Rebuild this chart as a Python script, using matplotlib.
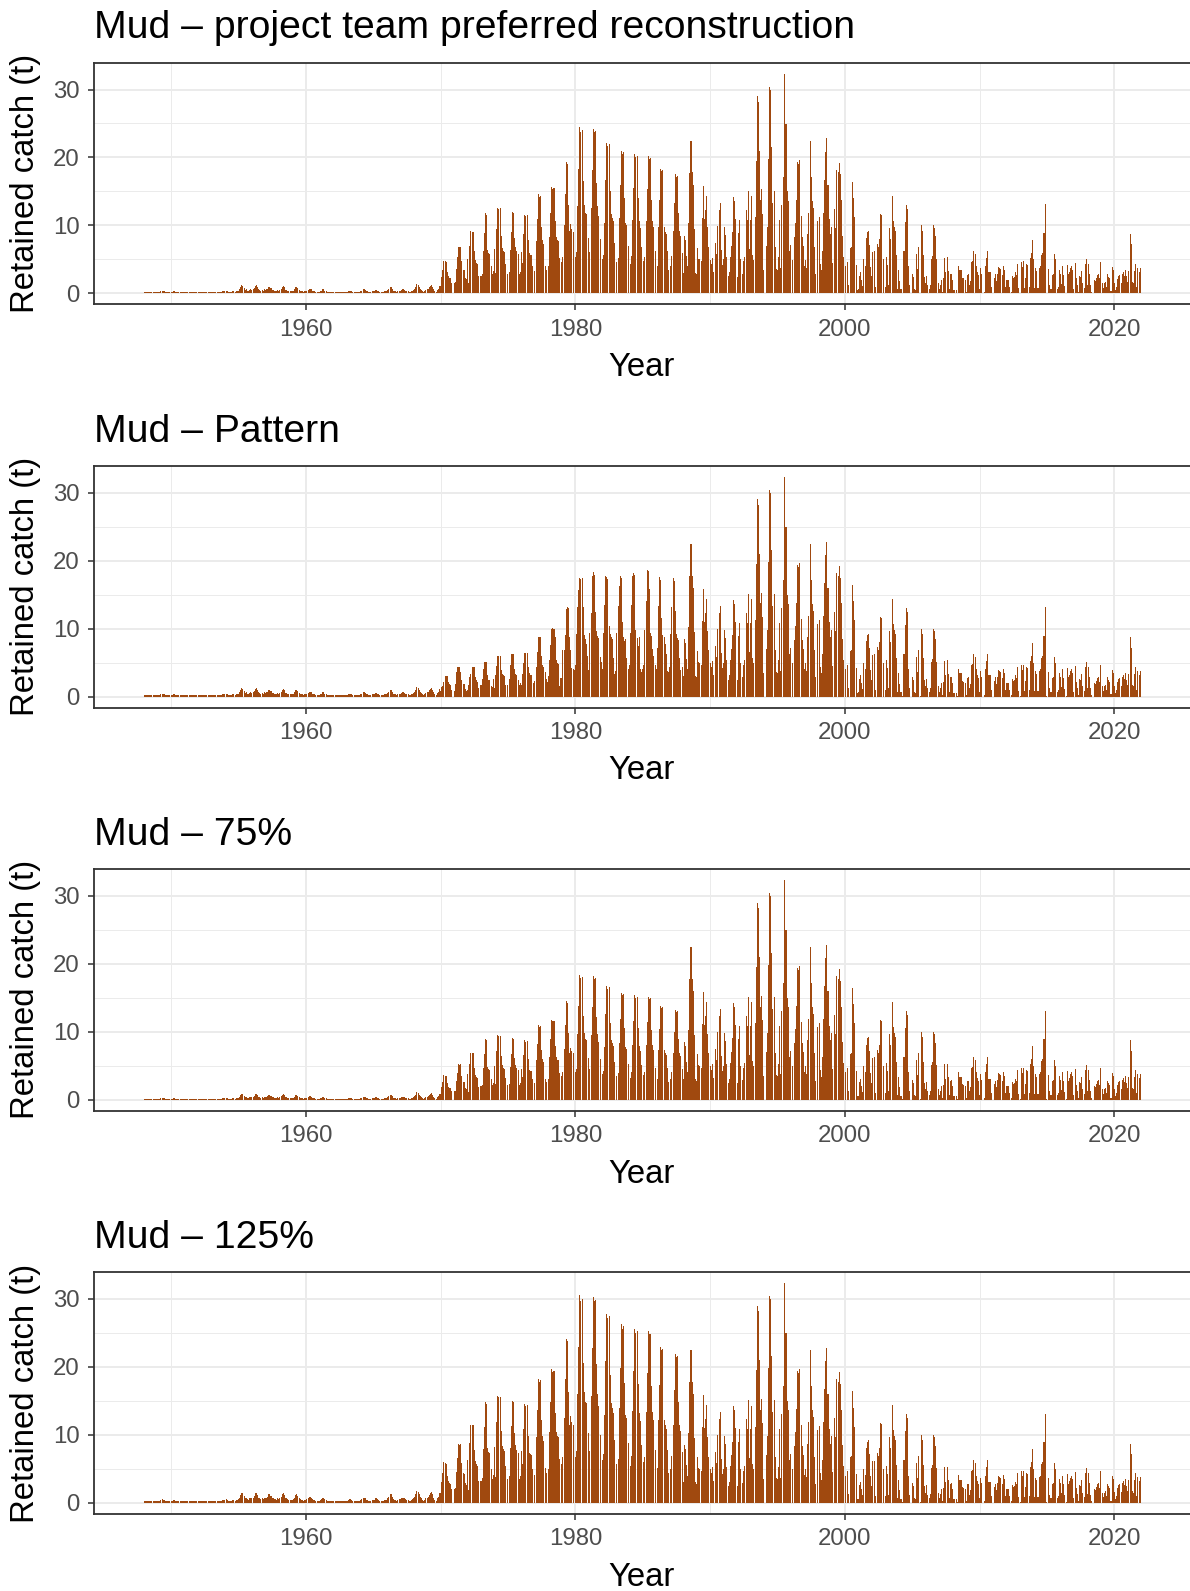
import numpy as np
import matplotlib
matplotlib.use("Agg")
import matplotlib.pyplot as plt

plt.rcParams['font.family'] = ['Liberation Sans', 'DejaVu Sans']

# monthly retained catch (t), one row per year, Jan..Dec

# 1948-1969, same in the reconstruction and pattern runs
early = [
    [0.2, 0.2, 0.2, 0.2, 0.2, 0.2, 0.2, 0.2, 0.2, 0.2, 0.2, 0.2],
    [0.2, 0.2, 0.2, 0.3, 0.4, 0.3, 0.3, 0.2, 0.2, 0.2, 0.2, 0.2],
    [0.2, 0.2, 0.3, 0.3, 0.2, 0.2, 0.2, 0.2, 0.2, 0.2, 0.2, 0.2],
    [0.2, 0.2, 0.2, 0.2, 0.2, 0.2, 0.2, 0.2, 0.2, 0.2, 0.2, 0.2],
    [0.2, 0.2, 0.2, 0.2, 0.2, 0.2, 0.2, 0.2, 0.2, 0.2, 0.2, 0.2],
    [0.2, 0.2, 0.2, 0.2, 0.2, 0.2, 0.2, 0.2, 0.2, 0.2, 0.3, 0.3],
    [0.3, 0.4, 0.3, 0.2, 0.2, 0.2, 0.2, 0.3, 0.3, 0.2, 0.3, 0.3],
    [0.4, 0.6, 0.9, 1.2, 1.1, 0.8, 0.5, 0.6, 0.4, 0.3, 0.5, 0.6],
    [0.5, 0.6, 0.8, 1.1, 1.2, 0.9, 0.6, 0.5, 0.4, 0.5, 0.4, 0.6],
    [0.5, 0.6, 0.7, 1.0, 1.0, 0.8, 0.5, 0.5, 0.4, 0.4, 0.3, 0.5],
    [0.4, 0.5, 0.7, 1.0, 1.1, 0.9, 0.5, 0.5, 0.4, 0.3, 0.3, 0.3],
    [0.3, 0.4, 0.6, 0.9, 1.0, 0.8, 0.5, 0.4, 0.3, 0.3, 0.2, 0.3],
    [0.3, 0.4, 0.5, 0.7, 0.7, 0.6, 0.4, 0.3, 0.3, 0.2, 0.2, 0.2],
    [0.2, 0.3, 0.4, 0.6, 0.6, 0.4, 0.3, 0.2, 0.2, 0.2, 0.2, 0.2],
    [0.2, 0.2, 0.2, 0.2, 0.2, 0.2, 0.2, 0.2, 0.2, 0.2, 0.2, 0.2],
    [0.2, 0.2, 0.3, 0.4, 0.4, 0.3, 0.2, 0.2, 0.2, 0.2, 0.2, 0.2],
    [0.2, 0.3, 0.4, 0.6, 0.6, 0.5, 0.3, 0.3, 0.2, 0.2, 0.2, 0.3],
    [0.3, 0.3, 0.5, 0.5, 0.4, 0.3, 0.2, 0.2, 0.2, 0.2, 0.3, 0.3],
    [0.3, 0.5, 0.7, 1.0, 1.0, 0.7, 0.4, 0.3, 0.3, 0.2, 0.3, 0.4],
    [0.4, 0.5, 0.6, 0.6, 0.5, 0.4, 0.3, 0.3, 0.2, 0.2, 0.3, 0.4],
    [0.5, 0.7, 1.0, 1.4, 1.3, 1.0, 0.7, 0.5, 0.3, 0.2, 0.3, 0.5],
    [0.6, 0.7, 0.9, 1.1, 1.3, 1.0, 0.6, 0.3, 0.2, 0.5, 0.7, 1.1],
]

# 1970-1987, project team preferred reconstruction
preferred = [
    [1.1, 2.4, 3.5, 4.8, 4.7, 4.6, 3.2, 2.5, 2.3, 2.2, 1.6, 0.0],
    [1.6, 1.7, 3.6, 5.3, 6.9, 6.8, 6.9, 4.7, 3.5, 3.4, 2.3, 2.1],
    [5.0, 1.5, 7.0, 9.2, 9.1, 9.1, 6.2, 4.9, 4.5, 4.3, 2.5, 0.0],
    [2.6, 2.9, 6.3, 8.9, 11.9, 11.6, 6.4, 6.0, 5.8, 4.0, 2.8, 3.3],
    [6.6, 3.0, 9.5, 12.6, 12.4, 12.5, 8.5, 6.7, 6.3, 6.1, 4.3, 0.0],
    [2.8, 3.1, 6.4, 9.0, 12.0, 11.9, 8.2, 6.8, 6.2, 5.8, 2.8, 3.2],
    [6.1, 4.5, 8.7, 11.6, 11.4, 11.5, 7.9, 5.9, 5.7, 5.6, 4.0, 0.0],
    [3.3, 7.7, 10.9, 14.6, 14.2, 14.4, 9.7, 7.9, 7.3, 4.1, 3.5, 0.0],
    [4.0, 8.3, 11.8, 15.7, 15.4, 15.5, 10.6, 8.3, 7.8, 7.7, 5.2, 0.0],
    [4.6, 5.4, 10.0, 14.6, 19.3, 19.0, 13.0, 9.2, 10.2, 9.5, 9.1, 0.0],
    [5.4, 6.1, 12.8, 18.3, 24.5, 23.8, 24.0, 16.5, 13.0, 11.9, 11.7, 0.0],
    [8.2, 6.1, 12.6, 18.2, 24.2, 23.7, 23.9, 16.3, 12.8, 11.4, 8.0, 0.0],
    [5.0, 5.7, 10.3, 16.7, 22.2, 21.7, 22.0, 15.0, 11.7, 11.1, 10.6, 7.4],
    [0.0, 4.6, 5.2, 11.1, 15.9, 21.0, 20.5, 20.8, 14.1, 10.3, 10.0, 7.0],
    [0.0, 4.3, 5.5, 10.8, 15.5, 20.5, 20.0, 20.2, 14.0, 10.6, 9.6, 6.8],
    [0.0, 4.8, 5.4, 10.7, 15.3, 20.2, 19.8, 19.9, 13.7, 10.7, 9.7, 6.2],
    [0.0, 4.1, 9.7, 13.8, 18.3, 18.0, 18.1, 9.7, 9.1, 8.7, 6.2, 3.5],
    [0.0, 4.0, 5.5, 9.2, 13.3, 17.5, 17.1, 17.3, 11.9, 9.2, 8.5, 6.0],
]

# 1970-1987, pattern run
pattern = [
    [0.8, 1.4, 1.5, 2.2, 3.0, 3.0, 3.0, 2.1, 1.8, 1.7, 1.0, 0.0],
    [0.8, 1.9, 3.6, 4.3, 4.3, 4.3, 3.6, 2.5, 1.9, 1.8, 1.1, 0.8],
    [1.0, 1.7, 2.8, 3.3, 4.4, 4.4, 4.4, 2.9, 2.4, 2.2, 1.2, 0.0],
    [1.7, 2.6, 4.0, 5.1, 5.1, 5.1, 3.2, 2.5, 2.4, 1.6, 1.4, 2.6],
    [1.2, 3.1, 4.5, 5.9, 5.9, 5.9, 3.9, 3.3, 3.1, 3.0, 1.7, 0.0],
    [1.7, 2.6, 4.6, 6.2, 6.2, 6.2, 4.1, 3.3, 3.2, 2.4, 1.7, 2.0],
    [1.7, 3.3, 4.9, 6.4, 6.4, 6.4, 4.3, 3.4, 3.1, 3.1, 0.0, 2.0],
    [2.3, 4.4, 6.5, 8.7, 8.7, 8.7, 5.9, 4.6, 4.4, 3.6, 2.6, 2.2],
    [3.0, 5.3, 7.6, 10.0, 10.1, 10.0, 8.7, 5.3, 5.0, 4.8, 1.6, 2.7],
    [2.7, 6.8, 6.9, 9.0, 12.9, 13.1, 13.0, 8.7, 6.9, 4.2, 4.0, 3.9],
    [4.6, 9.2, 13.2, 15.6, 17.4, 17.3, 17.4, 13.1, 9.0, 8.5, 7.8, 5.9],
    [3.9, 9.3, 12.3, 17.8, 18.3, 17.9, 12.4, 9.7, 8.9, 8.6, 5.8, 5.1],
    [4.1, 9.3, 13.4, 17.8, 17.6, 17.3, 10.4, 9.2, 8.7, 8.4, 5.6, 3.3],
    [3.8, 9.3, 13.3, 16.3, 17.7, 17.4, 10.9, 8.8, 8.2, 8.5, 5.7, 4.0],
    [4.7, 9.4, 13.5, 17.8, 18.1, 17.9, 9.8, 8.6, 7.5, 8.7, 4.1, 3.6],
    [4.0, 4.6, 9.8, 14.0, 18.6, 18.4, 15.8, 9.3, 8.9, 7.0, 6.0, 4.6],
    [4.0, 7.1, 13.3, 17.6, 17.1, 11.6, 9.0, 8.7, 7.7, 6.3, 3.8, 3.6],
    [4.3, 9.2, 13.1, 17.4, 17.0, 12.6, 9.2, 8.6, 8.3, 5.6, 3.9, 4.4],
]

# 1988-2021, logbook years common to every run
logbook = [
    [3.0, 8.5, 7.9, 5.5, 4.0, 10.3, 17.7, 22.4, 17.8, 16.0, 9.5, 3.0],
    [2.8, 6.7, 5.1, 5.0, 4.7, 11.1, 15.8, 11.0, 12.3, 14.4, 9.7, 6.8],
    [4.9, 4.4, 5.2, 3.2, 0.0, 7.4, 5.8, 9.9, 12.3, 13.3, 6.4, 4.2],
    [5.0, 9.8, 8.6, 5.3, 2.5, 3.1, 5.4, 7.0, 9.0, 14.2, 13.6, 11.0],
    [2.4, 8.9, 10.8, 5.0, 0.0, 2.9, 4.7, 5.4, 12.3, 10.8, 15.1, 6.6],
    [10.8, 14.3, 5.7, 4.9, 11.2, 19.5, 29.0, 28.2, 21.0, 13.7, 15.3, 11.7],
    [3.5, 0.0, 7.0, 9.8, 19.8, 30.4, 29.9, 21.6, 13.3, 15.1, 6.8, 3.6],
    [3.5, 5.3, 10.8, 3.7, 13.0, 17.1, 32.3, 24.9, 24.9, 15.0, 13.6, 6.3],
    [7.1, 4.9, 0.0, 8.3, 10.4, 13.8, 19.4, 19.1, 19.7, 11.4, 8.3, 7.0],
    [4.1, 4.9, 3.8, 8.7, 11.9, 22.4, 17.2, 13.6, 12.6, 6.8, 2.8, 0.0],
    [10.7, 11.3, 4.4, 3.4, 6.3, 11.9, 16.7, 20.8, 22.8, 16.0, 10.9, 8.7],
    [9.8, 4.5, 0.0, 12.4, 9.6, 18.2, 17.8, 19.2, 17.5, 13.7, 8.5, 5.4],
    [0.0, 4.0, 4.6, 1.3, 0.0, 6.7, 6.9, 16.4, 14.0, 11.2, 4.2, 0.5],
    [0.6, 2.6, 3.1, 2.0, 1.1, 5.0, 4.1, 8.1, 9.0, 9.2, 7.1, 3.9],
    [2.5, 6.1, 6.2, 1.0, 0.0, 7.3, 6.9, 8.0, 11.7, 11.6, 5.0, 0.0],
    [1.0, 5.4, 4.2, 1.2, 9.6, 8.0, 14.4, 10.7, 9.8, 9.2, 5.6, 0.7],
    [3.4, 1.8, 0.6, 0.1, 6.3, 6.3, 10.5, 13.0, 12.4, 4.0, 1.2, 0.0],
    [2.9, 2.4, 0.7, 0.5, 5.8, 3.6, 6.9, 0.1, 10.0, 9.2, 5.6, 2.4],
    [1.5, 2.6, 1.2, 0.7, 1.3, 5.1, 5.5, 10.0, 9.6, 8.4, 5.1, 1.5],
    [0.7, 1.3, 2.0, 0.2, 2.2, 5.2, 3.1, 5.3, 3.3, 0.7, 2.8, 2.9],
    [2.0, 0.5, 0.5, 0.5, 0.1, 4.1, 3.4, 3.4, 3.4, 2.3, 2.2, 2.0],
    [0.2, 2.7, 2.8, 1.2, 1.8, 4.6, 4.8, 6.3, 5.8, 4.0, 3.2, 2.7],
    [0.7, 3.7, 2.9, 0.0, 0.2, 4.0, 5.2, 6.3, 3.1, 3.1, 3.1, 1.0],
    [0.0, 2.3, 2.8, 1.8, 2.9, 3.9, 3.8, 3.6, 2.7, 4.1, 3.5, 1.0],
    [2.0, 2.0, 2.0, 1.0, 0.2, 2.6, 2.3, 2.4, 3.1, 2.7, 4.4, 0.8],
    [0.1, 4.6, 3.9, 4.7, 0.8, 2.3, 4.4, 4.2, 1.0, 5.2, 6.0, 7.9],
    [5.0, 0.8, 3.7, 3.3, 0.8, 3.8, 4.0, 5.7, 6.0, 8.9, 8.9, 13.1],
    [0.1, 3.6, 1.2, 0.7, 0.7, 2.7, 2.9, 5.8, 5.0, 0.7, 1.0, 3.5],
    [2.9, 1.4, 4.0, 2.7, 1.1, 0.1, 4.2, 2.8, 3.2, 3.7, 4.0, 3.5],
    [0.7, 4.5, 2.2, 1.3, 0.2, 2.6, 2.4, 3.3, 1.5, 0.8, 4.3, 5.1],
    [1.3, 4.4, 2.9, 1.2, 0.2, 0.0, 2.0, 1.8, 2.3, 2.7, 2.9, 2.2],
    [4.6, 1.5, 0.8, 1.5, 1.7, 1.0, 2.8, 2.4, 2.2, 0.3, 3.9, 3.5],
    [1.6, 0.5, 1.0, 2.1, 2.6, 2.7, 1.6, 2.9, 3.2, 2.6, 3.5, 2.5],
    [1.7, 3.3, 8.7, 7.2, 1.7, 1.5, 3.3, 4.4, 1.0, 3.8, 3.2, 3.8],
]

first_year = 1948
# the 75% / 125% runs scale the reconstructed years (pre-logbook)
low_factor = 0.75
high_factor = 1.25

titles = ["Mud \u2013 project team preferred reconstruction",
          "Mud \u2013 Pattern",
          "Mud \u2013 75%",
          "Mud \u2013 125%"]


def flat(rows, k=1.0):
    return [v * k for r in rows for v in r]


recon = early + preferred
series = [
    flat(recon) + flat(logbook),
    flat(early) + flat(pattern) + flat(logbook),
    flat(recon, low_factor) + flat(logbook),
    flat(recon, high_factor) + flat(logbook),
]

n = len(series[0])
t = first_year + np.arange(n) / 12.0

W, H = 1190, 1591
fig = plt.figure(figsize=(W / 100, H / 100), dpi=100)

bar_col = '#A0490F'
grid_col = '#EBEBEB'
dark = '#333333'
tick_col = '#4D4D4D'

step = 403.1
for i, vals in enumerate(series):
    top = 62.9 + step * i
    bot = 304.4 + step * i
    ax = fig.add_axes([94.3 / W, 1 - bot / H, 1 - 94.3 / W, (bot - top) / H])
    ax.bar(t, vals, width=0.9 / 12, color=bar_col, linewidth=0,
           antialiased=False, align='center', zorder=2)

    span = t[-1] - t[0]
    ax.set_xlim(t[0] - 0.05 * span, t[-1] + 0.05 * span)
    m = max(max(s) for s in series)
    ax.set_ylim(-0.05 * m, 1.05 * m)

    ax.set_xticks([1960, 1980, 2000, 2020])
    ax.set_xticks([1950, 1970, 1990, 2010], minor=True)
    ax.set_yticks([0, 10, 20, 30])
    ax.set_yticks([5, 15, 25], minor=True)
    ax.set_axisbelow(True)
    ax.grid(which='major', color=grid_col, linewidth=1.4, zorder=0)
    ax.grid(which='minor', color=grid_col, linewidth=0.7, zorder=0)

    ax.tick_params(which='major', length=4, width=1.1, color=dark,
                   labelsize=17.3, labelcolor=tick_col, pad=6.5)
    ax.tick_params(which='minor', length=0)
    for s in ['left', 'top', 'bottom']:
        ax.spines[s].set_color(dark)
        ax.spines[s].set_linewidth(1.3)
    ax.spines['right'].set_visible(False)

    fig.text(94.3 / W, 1 - (38.5 + step * i) / H, titles[i],
             fontsize=28.2, ha='left', va='baseline')
    fig.text(25.4 / W, 1 - ((top + bot) / 2) / H, 'Retained catch (t)',
             fontsize=23.7, rotation=90, ha='center', va='center')
    fig.text(642 / W, 1 - (376.4 + step * i) / H, 'Year',
             fontsize=23.7, ha='center', va='baseline')

fig.savefig('out.png', dpi=100)
